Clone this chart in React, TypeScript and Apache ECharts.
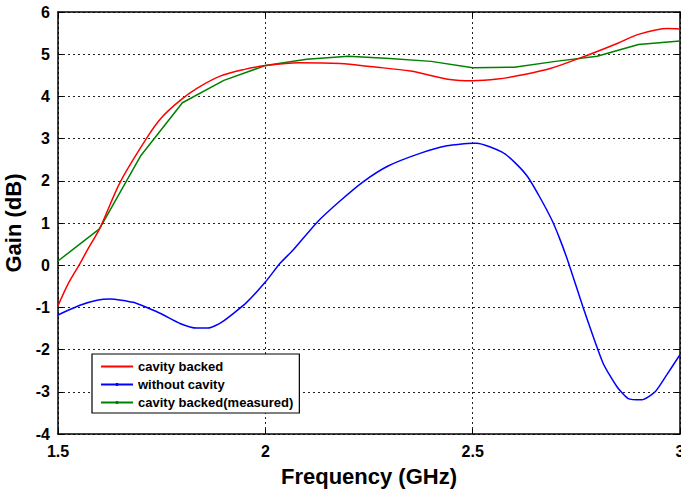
import React, { useEffect, useRef } from "react";
import * as echarts from "echarts";

const cavityX = [1.5, 1.525, 1.553, 1.572, 1.601, 1.65, 1.715, 1.75, 1.794, 1.835, 1.891, 1.95, 2.0, 2.08, 2.18, 2.26, 2.35, 2.445, 2.5, 2.56, 2.614, 2.687, 2.783, 2.85, 2.9, 2.97, 3.0];
const cavityY = [-0.96, -0.43, 0.04, 0.38, 0.88, 1.97, 3.03, 3.5, 3.9, 4.19, 4.48, 4.64, 4.73, 4.8, 4.78, 4.7, 4.6, 4.4, 4.37, 4.41, 4.5, 4.66, 5.0, 5.26, 5.47, 5.61, 5.6];

const noCavityX = [1.5, 1.553, 1.594, 1.625, 1.681, 1.746, 1.794, 1.835, 1.862, 1.895, 1.955, 2.0, 2.035, 2.067, 2.125, 2.18, 2.235, 2.296, 2.373, 2.438, 2.5, 2.51, 2.571, 2.602, 2.633, 2.662, 2.691, 2.711, 2.731, 2.766, 2.814, 2.848, 2.875, 2.908, 2.94, 2.968, 3.0];
const noCavityY = [-1.18, -0.95, -0.83, -0.8, -0.88, -1.14, -1.38, -1.49, -1.49, -1.35, -0.88, -0.4, 0.04, 0.36, 1.02, 1.52, 1.97, 2.35, 2.65, 2.83, 2.89, 2.89, 2.68, 2.43, 2.09, 1.61, 1.07, 0.6, 0.06, -0.99, -2.31, -2.88, -3.16, -3.19, -3.0, -2.6, -2.12];

const measuredX = [1.5, 1.6, 1.7, 1.8, 1.9, 2.0, 2.1, 2.2, 2.3, 2.4, 2.5, 2.6, 2.7, 2.8, 2.9, 3.0];
const measuredY = [0.1, 0.86, 2.6, 3.85, 4.38, 4.73, 4.88, 4.95, 4.9, 4.83, 4.68, 4.69, 4.83, 4.95, 5.23, 5.31];

const seriesNames = ["cavity backed", "without cavity", "cavity backed(measured)"];
const seriesColors = ["#ff0000", "#0000ff", "#008000"];

const FONT = "'Liberation Sans', Arial, Helvetica, sans-serif";

function pairs(xs: number[], ys: number[]) {
  return xs.map((x, i) => [x, ys[i]]);
}

export default function App() {
  const ref = useRef<HTMLDivElement>(null);
  useEffect(() => {
    document.body.style.margin = "0";
    if (!ref.current) return;
    const chart = echarts.init(ref.current, null, { renderer: "svg" });
    const axisLine = { show: true, onZero: false, lineStyle: { color: "#000", width: 1.5 } };
    const tick = { show: true, inside: true, length: 5, lineStyle: { color: "#000", width: 1 } };
    const split = { show: true, lineStyle: { color: "#222", width: 1, type: [2, 3] as any } };
    chart.setOption({
      animation: false,
      grid: { left: 58, right: 1, top: 12, bottom: 57, containLabel: false, outerBoundsMode: "none" },
      legend: {
        orient: "vertical",
        left: 92,
        top: 354,
        data: [
          { name: seriesNames[0], itemStyle: { opacity: 0 } },
          { name: seriesNames[1] },
          { name: seriesNames[2] },
        ],
        itemWidth: 32,
        itemHeight: 4,
        itemGap: 5,
        padding: [6, 6, 4, 8],
        backgroundColor: "#fff",
        borderColor: "#000",
        borderWidth: 1.2,
        borderRadius: 0,
        textStyle: { fontFamily: FONT, fontSize: 13, fontWeight: "bold", color: "#000", padding: [0, 0, 0, 0] },
      },
      xAxis: [
        {
          type: "value",
          min: 1.5,
          max: 3,
          interval: 0.5,
          position: "bottom",
          axisLine,
          axisTick: tick,
          splitLine: split,
          axisLabel: {
            fontFamily: FONT,
            fontSize: 16,
            fontWeight: "bold",
            color: "#000",
            margin: 9,
            formatter: (v: number) => String(v),
          },
          name: "Frequency (GHz)",
          nameLocation: "middle",
          nameGap: 31,
          nameTextStyle: { fontFamily: FONT, fontSize: 22, fontWeight: "bold", color: "#000" },
        },
        {
          type: "value",
          min: 1.5,
          max: 3,
          interval: 0.5,
          position: "top",
          axisLine,
          axisTick: tick,
          splitLine: { show: false },
          axisLabel: { show: false },
        },
      ],
      yAxis: [
        {
          type: "value",
          min: -4,
          max: 6,
          interval: 1,
          position: "left",
          axisLine,
          axisTick: tick,
          splitLine: split,
          axisLabel: {
            fontFamily: FONT,
            fontSize: 16,
            fontWeight: "bold",
            color: "#000",
            margin: 8,
          },
          name: "Gain (dB)",
          nameLocation: "middle",
          nameGap: 31,
          nameTextStyle: { fontFamily: FONT, fontSize: 22, fontWeight: "bold", color: "#000" },
        },
        {
          type: "value",
          min: -4,
          max: 6,
          interval: 1,
          position: "right",
          axisLine,
          axisTick: tick,
          splitLine: { show: false },
          axisLabel: { show: false },
        },
      ],
      series: [
        {
          name: seriesNames[0],
          type: "line",
          data: pairs(cavityX, cavityY),
          smooth: 0.3,
          symbol: "none",
          showSymbol: false,
          color: seriesColors[0],
          lineStyle: { width: 1.5, color: seriesColors[0] },
          z: 3,
        },
        {
          name: seriesNames[1],
          type: "line",
          data: pairs(noCavityX, noCavityY),
          smooth: 0.2,
          symbol: "circle",
          symbolSize: 4,
          showSymbol: false,
          color: seriesColors[1],
          lineStyle: { width: 1.5, color: seriesColors[1] },
          z: 3,
        },
        {
          name: seriesNames[2],
          type: "line",
          data: pairs(measuredX, measuredY),
          symbol: "circle",
          symbolSize: 4,
          showSymbol: false,
          color: seriesColors[2],
          lineStyle: { width: 1.5, color: seriesColors[2] },
          z: 2,
        },
      ],
    });
    return () => chart.dispose();
  }, []);
  return <div ref={ref} style={{ width: 681, height: 491 }} />;
}
